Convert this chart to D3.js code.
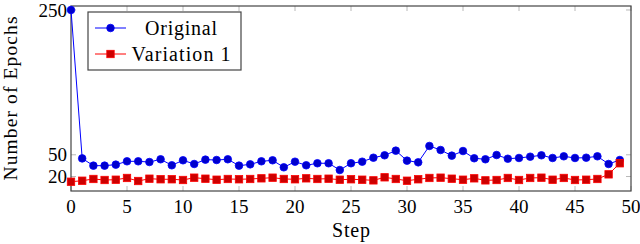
<!DOCTYPE html>
<html>
<head>
<meta charset="utf-8">
<script src="https://cdn.jsdelivr.net/npm/d3@7"></script>
<style>
  body { margin: 0; background: #fff; }
  text { font-family: "Liberation Serif", "DejaVu Serif", serif; fill: #000; }
</style>
</head>
<body>
<svg id="chart" width="640" height="244"></svg>
<script>
// values
const steps = d3.range(0, 50);
const original = [250, 45, 35, 35, 36.4, 41, 41, 40, 43.8, 35.5,
  42.4, 37.3, 43.3, 42.8, 43.8, 35, 36.8, 41, 42.4, 32.7,
  40.5, 35.5, 38.3, 38.3, 29, 38.3, 40.5, 46, 49.3, 55.7,
  41.9, 39.6, 62.2, 56.6, 48.8, 55.2, 45.2, 43.8, 49.7, 44.6,
  45.6, 47.4, 49.3, 45.6, 47.9, 45.6, 46, 47.9, 37.3, 42.8];
const variation1 = [12.8, 14.2, 16.6, 15.2, 15.6, 18, 13.8, 17, 16.2, 16.2,
  15.2, 18.4, 17, 15.6, 16.6, 16.2, 16.6, 17.5, 18.4, 16.6,
  16.2, 17.5, 16.6, 17, 15.6, 16.2, 15.6, 14.7, 18.9, 16.6,
  14.2, 16.2, 18, 18.4, 17, 15.6, 17.5, 14.7, 15.2, 18,
  15.2, 18, 18.4, 15.6, 18, 15.2, 15.6, 16.6, 23, 38.3];
const xTicks = [0, 5, 10, 15, 20, 25, 30, 35, 40, 45, 50];
const yTicks = [20, 50, 250];

const svg = d3.select('#chart');
const plotLeft = 71, plotRight = 631, plotTop = 6, plotBottom = 191;

const x = d3.scaleLinear().domain([0, 50]).range([plotLeft, plotRight]);
const y = d3.scaleLinear().domain([0, 255.5]).range([plotBottom, plotTop]);

// tick marks on all four sides (pgfplots style, drawn inside)
const tickLen = 5;
const tickColor = '#b8b8b8';
const g = svg.append('g');

g.selectAll('.xt-b').data(xTicks).join('line')
  .attr('x1', d => x(d)).attr('x2', d => x(d))
  .attr('y1', plotBottom).attr('y2', plotBottom - tickLen)
  .attr('stroke', tickColor).attr('stroke-width', 1);
g.selectAll('.xt-t').data(xTicks).join('line')
  .attr('x1', d => x(d)).attr('x2', d => x(d))
  .attr('y1', plotTop).attr('y2', plotTop + tickLen)
  .attr('stroke', tickColor).attr('stroke-width', 1);
g.selectAll('.yt-l').data(yTicks).join('line')
  .attr('x1', plotLeft).attr('x2', plotLeft + tickLen)
  .attr('y1', d => y(d)).attr('y2', d => y(d))
  .attr('stroke', tickColor).attr('stroke-width', 1);
g.selectAll('.yt-r').data(yTicks).join('line')
  .attr('x1', plotRight).attr('x2', plotRight - tickLen)
  .attr('y1', d => y(d)).attr('y2', d => y(d))
  .attr('stroke', tickColor).attr('stroke-width', 1);

// frame
svg.append('rect')
  .attr('x', plotLeft).attr('y', plotTop)
  .attr('width', plotRight - plotLeft).attr('height', plotBottom - plotTop)
  .attr('fill', 'none').attr('stroke', '#444').attr('stroke-width', 1.2);

// tick labels
svg.selectAll('.xl').data(xTicks).join('text')
  .attr('x', d => x(d)).attr('y', 213)
  .attr('text-anchor', 'middle')
  .attr('font-size', 19)
  .text(d => d);
svg.selectAll('.yl').data(yTicks).join('text')
  .attr('x', 67).attr('y', d => y(d))
  .attr('dy', '0.35em')
  .attr('text-anchor', 'end')
  .attr('font-size', 19)
  .text(d => d);

// axis titles
svg.append('text')
  .attr('x', (plotLeft + plotRight) / 2).attr('y', 237)
  .attr('text-anchor', 'middle').attr('font-size', 20)
  .attr('textLength', 38).attr('lengthAdjust', 'spacing')
  .text('Step');
svg.append('text')
  .attr('transform', `translate(16.5, ${(plotTop + plotBottom) / 2}) rotate(-90)`)
  .attr('text-anchor', 'middle').attr('font-size', 19.5)
  .attr('textLength', 164).attr('lengthAdjust', 'spacing')
  .text('Number of Epochs');

// series
const line = d3.line().x((d, i) => x(steps[i])).y(d => y(d));

svg.append('path').datum(original)
  .attr('d', line).attr('fill', 'none')
  .attr('stroke', '#0000ff').attr('stroke-width', 1);
svg.append('path').datum(variation1)
  .attr('d', line).attr('fill', 'none')
  .attr('stroke', '#ff0000').attr('stroke-width', 1);

svg.selectAll('.dot').data(original).join('circle')
  .attr('cx', (d, i) => x(steps[i])).attr('cy', d => y(d))
  .attr('r', 3.8)
  .attr('fill', '#0000cc').attr('stroke', '#0000ff').attr('stroke-width', 0.8);

const sq = 7.4;
svg.selectAll('.sq').data(variation1).join('rect')
  .attr('x', (d, i) => x(steps[i]) - sq / 2).attr('y', d => y(d) - sq / 2)
  .attr('width', sq).attr('height', sq)
  .attr('fill', '#cc0000').attr('stroke', '#ff0000').attr('stroke-width', 0.8);

// legend
const lg = svg.append('g');
lg.append('rect')
  .attr('x', 88).attr('y', 12).attr('width', 153).attr('height', 58)
  .attr('fill', '#fff').attr('stroke', '#444').attr('stroke-width', 1.2);

const legendItems = [
  { name: 'Original', width: 72, color: '#0000ff', fill: '#0000cc', mark: 'circle', cy: 28 },
  { name: 'Variation 1', width: 99, color: '#ff0000', fill: '#cc0000', mark: 'square', cy: 54 }
];
legendItems.forEach(it => {
  lg.append('line')
    .attr('x1', 95).attr('x2', 126).attr('y1', it.cy).attr('y2', it.cy)
    .attr('stroke', it.color).attr('stroke-width', 1);
  if (it.mark === 'circle') {
    lg.append('circle').attr('cx', 110.5).attr('cy', it.cy).attr('r', 3.8)
      .attr('fill', it.fill).attr('stroke', it.color).attr('stroke-width', 0.8);
  } else {
    lg.append('rect').attr('x', 110.5 - sq / 2).attr('y', it.cy - sq / 2)
      .attr('width', sq).attr('height', sq)
      .attr('fill', it.fill).attr('stroke', it.color).attr('stroke-width', 0.8);
  }
  lg.append('text')
    .attr('x', 181).attr('y', it.cy).attr('dy', '0.35em')
    .attr('text-anchor', 'middle').attr('font-size', 20)
    .attr('textLength', it.width).attr('lengthAdjust', 'spacing')
    .text(it.name);
});
</script>
</body>
</html>
